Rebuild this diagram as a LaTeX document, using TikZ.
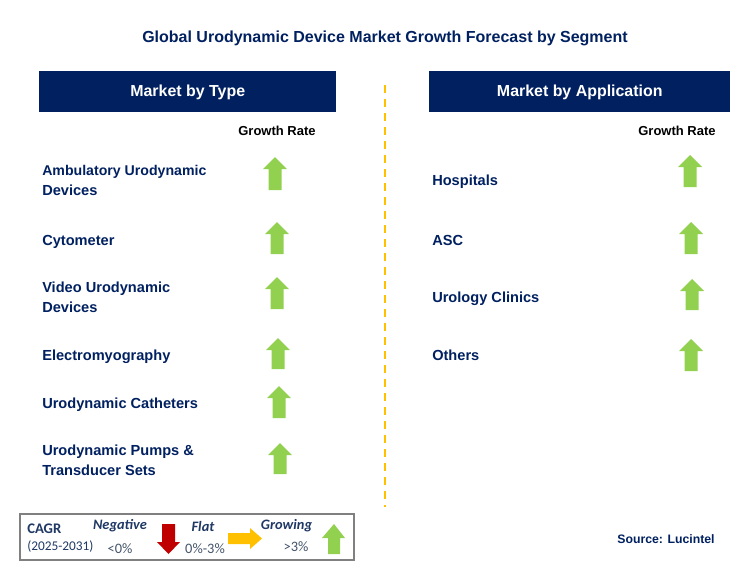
\documentclass[tikz,border=0pt]{standalone}
\usepackage{fontspec}
\setmainfont{Liberation Sans}
\newfontfamily\legfont{Carlito}
\definecolor{navy}{HTML}{002060}
\definecolor{grn}{HTML}{92D050}
\definecolor{gold}{HTML}{FFC000}
\definecolor{legred}{HTML}{C00000}
\definecolor{legblue}{HTML}{1F3864}
\definecolor{legtxt}{HTML}{44546A}
\newcommand{\uparr}[3]{\fill[grn] (#1-6.5,#3) -- (#1-6.5,#2+12) -- (#1-12,#2+12) -- (#1,#2) -- (#1+12,#2+12) -- (#1+6.5,#2+12) -- (#1+6.5,#3) -- cycle;}
\begin{document}
\begin{tikzpicture}[x=0.75pt,y=-0.75pt,
 lab/.style={font=\bfseries\fontsize{10.95}{15}\selectfont,text=navy,align=left,anchor=west,inner sep=0pt},
 head/.style={fill=navy,text=white,font=\bfseries\fontsize{11.95}{14}\selectfont,minimum height=30.75pt,inner sep=0pt,anchor=north west,text depth=1.5pt},
 grate/.style={font=\bfseries\fontsize{9.75}{11}\selectfont,inner sep=0pt},
 legh/.style={font=\legfont\bfseries\itshape\fontsize{10.8}{12}\selectfont,text=legblue,inner sep=0pt},
 legv/.style={font=\legfont\fontsize{10.8}{12}\selectfont,text=legtxt,inner sep=0pt}]
\useasboundingbox (0,0) rectangle (751,575);
\node[inner sep=0pt,font=\bfseries\fontsize{12}{14}\selectfont,text=navy] (title) at (385,38.5) {Global Urodynamic Device Market Growth Forecast by Segment};
\node[head,minimum width=222.75pt] (h1) at (39,71) {Market by Type};
\node[head,minimum width=225.75pt] (h2) at (429,71) {Market by Application};
\node[grate] (g1) at (277,131) {Growth Rate};
\node[grate] (g2) at (677,131) {Growth Rate};
\draw[draw=gold,line width=1.9pt,dash pattern=on 6pt off 4.5pt] (385,85) -- (385,507);
\node[lab] (a1) at (42,180) {{\fontsize{10.6}{15}\selectfont Ambulatory Urodynamic}\\Devices};
\node[lab] (a2) at (42,242) {Cytometer};
\node[lab] (a3) at (42,297) {Video Urodynamic\\Devices};
\node[lab] (a4) at (42,357) {Electromyography};
\node[lab] (a5) at (42,405) {Urodynamic Catheters};
\node[lab] (a6) at (42,460) {Urodynamic Pumps \&\\Transducer Sets};
\node[lab] (b1) at (432,182) {Hospitals};
\node[lab] (b2) at (432,240) {ASC};
\node[lab] (b3) at (432,299) {Urology Clinics};
\node[lab] (b4) at (432,355) {Others};
\uparr{275}{157}{190}\uparr{277}{222}{254}\uparr{277}{277}{309}\uparr{278}{338}{369}\uparr{279}{386}{418}\uparr{280}{443}{474}
\uparr{690}{155}{187}\uparr{691}{222}{254}\uparr{692}{279}{310}\uparr{691}{339}{371}
\draw[draw=gray,line width=0.9pt] (20,514) rectangle (354,560);
\node[inner sep=0pt,anchor=west,font=\legfont\bfseries\fontsize{11}{12}\selectfont,text=legblue] (c1) at (27,529) {CAGR};
\node[inner sep=0pt,anchor=west,font=\legfont\fontsize{10}{12}\selectfont,text=legblue] (c2) at (27,547) {(2025-2031)};
\node[legh] (n1) at (120,526) {Negative};
\node[legv] (n2) at (120,549) {<0\%};
\node[legh] (f1) at (203,526) {Flat};
\node[legv] (f2) at (205,549) {0\%-3\%};
\node[legh] (r1) at (286.5,526) {Growing};
\node[legv] (r2) at (296,547) {>3\%};
\fill[legred] (162,524) -- (175,524) -- (175,542) -- (180,542) -- (168.5,554) -- (157,542) -- (162,542) -- cycle;
\fill[gold] (228,533) -- (250,533) -- (250,528) -- (262,538.5) -- (250,549) -- (250,544) -- (228,544) -- cycle;
\fill[grn] (328,554) -- (328,538) -- (322,538) -- (334,524) -- (345,538) -- (340,538) -- (340,554) -- cycle;
\node[inner sep=0pt,font=\bfseries\fontsize{9.2}{11}\selectfont,text=navy] (src) at (666,539) {Source: Lucintel};
\end{tikzpicture}
\end{document}
